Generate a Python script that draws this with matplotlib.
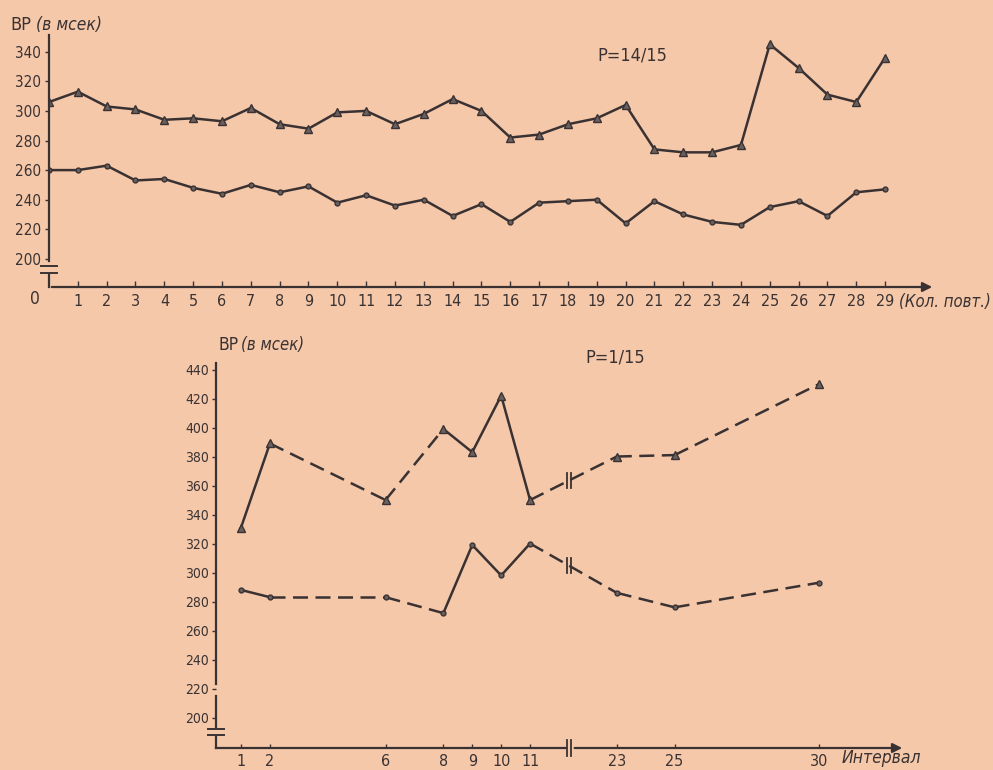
import matplotlib
matplotlib.use("Agg")
import matplotlib.pyplot as plt
import numpy as np

# ---------------- data ----------------
top_x = list(range(0, 30))
top_tri = [306, 313, 303, 301, 294, 295, 293, 302, 291, 288, 299, 300, 291, 298, 308,
           300, 282, 284, 291, 295, 304, 274, 272, 272, 277, 345, 329, 311, 306, 336]
top_circ = [260, 260, 263, 253, 254, 248, 244, 250, 245, 249, 238, 243, 236, 240, 229,
            237, 225, 238, 239, 240, 224, 239, 230, 225, 223, 235, 239, 229, 245, 247]
top_xticks = list(range(0, 30))
top_yticks = [200, 220, 240, 260, 280, 300, 320, 340]

bot_x = [1, 2, 6, 8, 9, 10, 11, 23, 25, 30]
bot_tri = [331, 389, 350, 399, 383, 422, 350, 380, 381, 430]
bot_circ = [288, 283, 283, 272, 319, 298, 320, 286, 276, 293]
bot_yticks = [200, 220, 240, 260, 280, 300, 320, 340, 360, 380, 400, 420, 440]

BG = "#f5c8aa"
INK = "#3a3232"
FONT = dict(family="DejaVu Sans", fontstretch="condensed")

W, H = 993.0, 770.0
fig = plt.figure(figsize=(9.93, 7.70), dpi=100, facecolor=BG)


def px_axes(left, top, right, bottom):
    return fig.add_axes([left / W, (H - bottom) / H, (right - left) / W, (bottom - top) / H])


def ftext(x, y, s, **kw):
    fig.text(x / W, 1 - y / H, s, color=INK, **FONT, **kw)


def style(ax):
    ax.set_facecolor("none")
    for s in ax.spines.values():
        s.set_visible(False)
    ax.tick_params(colors=INK, labelcolor=INK, labelsize=11)


# ================= top chart =================
ax1 = px_axes(49, 35, 935, 287)
style(ax1)
ax1.set_xlim(0, 30.73)
ax1.set_ylim(181, 351.3)
ax1.plot(top_x, top_tri, color=INK, lw=1.8, marker="^", ms=6, mfc="#6a6060", mec=INK)
ax1.plot(top_x, top_circ, color=INK, lw=1.8, marker="o", ms=3.5, mfc="#6a6060", mec=INK)
ax1.set_xticks(top_xticks[1:])
ax1.set_xticklabels([str(v) for v in top_xticks[1:]], fontsize=11.5, **FONT)
ax1.tick_params(axis="x", direction="in", length=4, width=1, pad=5)
ax1.set_yticks(top_yticks)
ax1.set_yticklabels([str(v) for v in top_yticks], fontsize=11, **FONT)
ax1.tick_params(axis="y", direction="out", length=3, width=1, pad=3)
ftext(35, 299, "0", ha="center", va="center", fontsize=12.5)

# axes lines with break
tr = ax1.transAxes
ax1.plot([0, 0], [1.0, 0.102], transform=tr, color=INK, lw=1.6, clip_on=False)
ax1.plot([0, 0], [0.05, 0], transform=tr, color=INK, lw=1.6, clip_on=False)
for yb in (0.085, 0.055):
    ax1.plot([-0.009, 0.009], [yb, yb], transform=tr, color=INK, lw=1.4, clip_on=False)
ax1.annotate("", xy=(1.0, 0), xytext=(0, 0), xycoords=tr, textcoords=tr,
             arrowprops=dict(arrowstyle="-|>", color=INK, lw=1.6, mutation_scale=14))
ftext(899, 302, "(Кол. повт.)", ha="left", va="center", fontsize=12, style="italic")
ftext(10, 25, "ВР", ha="left", va="center", fontsize=13)
ftext(36, 25, "(в мсек)", ha="left", va="center", fontsize=12.5, style="italic")
ftext(597, 55, "P=14/15", ha="left", va="center", fontsize=13)

# ================= bottom chart =================
BREAK_LO, SHIFT = 11, 9


def xpos(v):
    return v if v <= BREAK_LO else v - SHIFT


ax2 = px_axes(216, 363, 905, 748)
style(ax2)
ax2.set_xlim(0.135, 23.97)
ax2.set_ylim(179, 444.5)
px = [xpos(v) for v in bot_x]
for ys, mk, ms in ((bot_tri, "^", 6), (bot_circ, "o", 3.5)):
    for i in range(len(px) - 1):
        solid = (bot_x[i + 1] - bot_x[i]) == 1
        ax2.plot(px[i:i + 2], ys[i:i + 2], color=INK, lw=1.8,
                 ls="-" if solid else (0, (6, 3)))
    ax2.plot(px, ys, ls="none", marker=mk, ms=ms, mfc="#6a6060", mec=INK)
    # break marks on the line between 11 and 23
    xb = 12.35
    yb = np.interp(xb, [px[6], px[7]], [ys[6], ys[7]])
    for dx in (-0.08, 0.08):
        ax2.plot([xb + dx, xb + dx], [yb - 5, yb + 5], color=INK, lw=1.3)

ax2.set_xticks(px)
ax2.set_xticklabels([str(v) for v in bot_x], fontsize=11.5, **FONT)
ax2.tick_params(axis="x", direction="in", length=3, width=1, pad=4)
ax2.set_yticks(bot_yticks)
ax2.set_yticklabels([str(v) for v in bot_yticks], fontsize=10, **FONT)
ax2.tick_params(axis="y", direction="out", length=3, width=1, pad=2)

tr2 = ax2.transAxes
ax2.plot([0, 0], [1.0, 0.165], transform=tr2, color=INK, lw=1.6, clip_on=False)
ax2.plot([0, 0], [0.135, 0.055], transform=tr2, color=INK, lw=1.6, clip_on=False)
ax2.plot([0, 0], [0.03, 0], transform=tr2, color=INK, lw=1.6, clip_on=False)
for yb in (0.05, 0.033):
    ax2.plot([-0.012, 0.012], [yb, yb], transform=tr2, color=INK, lw=1.4, clip_on=False)
xbr = (12.35 - 0.135) / (23.97 - 0.135)
ax2.plot([0, xbr - 0.004], [0, 0], transform=tr2, color=INK, lw=1.6, clip_on=False)
for xx in (xbr - 0.003, xbr + 0.003):
    ax2.plot([xx, xx], [-0.02, 0.02], transform=tr2, color=INK, lw=1.3, clip_on=False)
ax2.annotate("", xy=(1.0, 0), xytext=(xbr + 0.004, 0), xycoords=tr2, textcoords=tr2,
             arrowprops=dict(arrowstyle="-|>", color=INK, lw=1.6, mutation_scale=14))
ftext(842, 758, "Интервал", ha="left", va="center", fontsize=12.5, style="italic")
ftext(218, 345, "ВР", ha="left", va="center", fontsize=12.5)
ftext(241, 345, "(в мсек)", ha="left", va="center", fontsize=12, style="italic")
ftext(585, 357, "P=1/15", ha="left", va="center", fontsize=13)

fig.savefig("out.png", dpi=100, facecolor=BG)
